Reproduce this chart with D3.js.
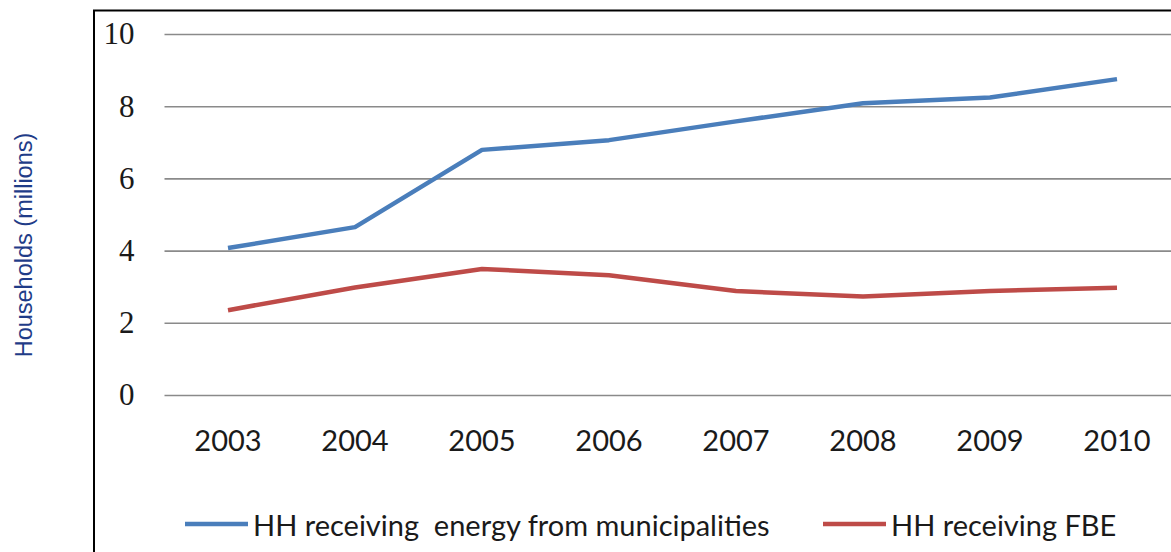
<!DOCTYPE html>
<html>
<head>
<meta charset="utf-8">
<script src="https://cdn.jsdelivr.net/npm/d3@7"></script>
<style>
  html, body { margin: 0; padding: 0; background: #fff; }
  svg { display: block; }
</style>
</head>
<body>
<svg id="chart" width="1171" height="552"></svg>
<script>
// Households served, in millions
const years = ["2003", "2004", "2005", "2006", "2007", "2008", "2009", "2010"];
const municipalEnergy = [4.07, 4.65, 6.79, 7.06, 7.58, 8.08, 8.24, 8.75];
const freeBasicEnergy = [2.35, 2.98, 3.49, 3.32, 2.88, 2.73, 2.88, 2.97];
const seriesNames = ["HH receiving  energy from municipalities", "HH receiving FBE"];
const seriesColors = ["#4a7ebb", "#be4b48"];
const yTicks = [0, 2, 4, 6, 8, 10];
const yTitle = "Households (millions)";

const svg = d3.select("#chart");

// chart frame (continues past the right and bottom edges)
svg.append("rect")
  .attr("x", 94).attr("y", 10.5)
  .attr("width", 1200).attr("height", 600)
  .attr("fill", "#fff")
  .attr("stroke", "#000")
  .attr("stroke-width", 2);

const x = d3.scaleBand().domain(years).range([164.5, 1180.5]);
const y = d3.scaleLinear().domain([0, 10]).range([395, 34]);

// horizontal gridlines with serif value labels
const yAxis = svg.append("g")
  .attr("transform", "translate(164.5,0)")
  .call(d3.axisLeft(y).tickValues(yTicks).tickSize(-1020).tickPadding(30).tickFormat(d3.format("d")));
yAxis.select(".domain").remove();
yAxis.selectAll(".tick line").attr("stroke", "#8a8a8a").attr("stroke-width", 1.6);
yAxis.selectAll(".tick text")
  .attr("font-family", "'Liberation Serif', 'DejaVu Serif', serif")
  .attr("font-size", 31)
  .attr("fill", "#1a1a1a");

// year labels
const xAxis = svg.append("g")
  .attr("transform", "translate(0,395)")
  .call(d3.axisBottom(x).tickSize(0).tickPadding(35));
xAxis.select(".domain").remove();
xAxis.selectAll(".tick text")
  .attr("font-family", "Lato, 'Open Sans', sans-serif")
  .attr("font-size", 29)
  .attr("fill", "#1a1a1a");

// y axis title
svg.append("text")
  .attr("transform", "translate(24,245) rotate(-90)")
  .attr("text-anchor", "middle")
  .attr("dominant-baseline", "central")
  .attr("font-family", "'Liberation Sans', Arial, sans-serif")
  .attr("font-size", 23.5)
  .attr("fill", "#1f3c88")
  .text(yTitle);

// series lines
const line = d3.line()
  .x((d, i) => x(years[i]) + x.bandwidth() / 2)
  .y(d => y(d));

[municipalEnergy, freeBasicEnergy].forEach((vals, k) => {
  svg.append("path")
    .datum(vals)
    .attr("d", line)
    .attr("fill", "none")
    .attr("stroke", seriesColors[k])
    .attr("stroke-width", 4.5)
    .attr("stroke-linejoin", "round");
});

// legend
const legendX = [185, 823];
const legend = svg.append("g").attr("transform", "translate(0,524)");
seriesNames.forEach((name, k) => {
  const g = legend.append("g").attr("transform", `translate(${legendX[k]},0)`);
  g.append("line")
    .attr("x1", 0).attr("x2", 63)
    .attr("y1", 0).attr("y2", 0)
    .attr("stroke", seriesColors[k])
    .attr("stroke-width", 4.5);
  g.append("text")
    .attr("x", 68).attr("y", 0)
    .attr("dominant-baseline", "central")
    .attr("font-family", "Lato, 'Open Sans', sans-serif")
    .attr("font-size", 29)
    .attr("fill", "#1a1a1a")
    .attr("xml:space", "preserve")
    .style("white-space", "pre")
    .text(name);
});
</script>
</body>
</html>
